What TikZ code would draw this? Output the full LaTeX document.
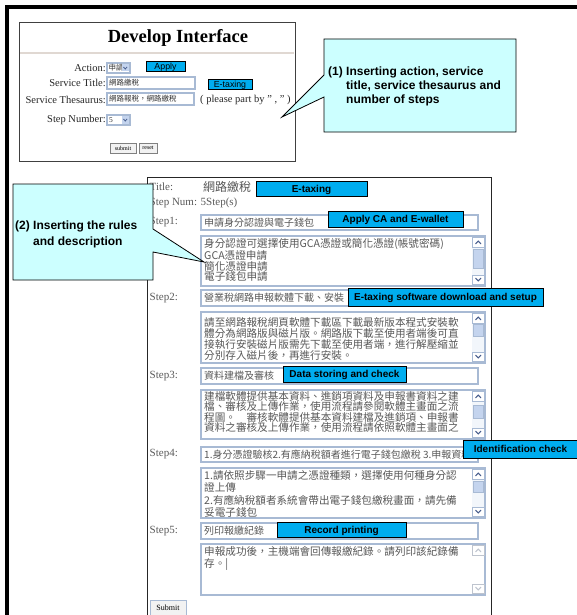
\documentclass[tikz,border=0pt]{standalone}
\usepackage{fontspec}
\setmainfont{Liberation Serif}
\setsansfont{Liberation Sans}
\newfontfamily\cjk{Noto Sans CJK TC}
\definecolor{callfill}{RGB}{204,255,255}
\definecolor{boxline}{RGB}{168,186,212}
\definecolor{sbtrack}{RGB}{242,246,251}
\definecolor{sbthumb}{RGB}{196,212,238}
\definecolor{sbarrow}{RGB}{70,92,140}
\definecolor{sbidle}{RGB}{190,196,206}
\definecolor{labgray}{RGB}{90,90,90}
\definecolor{cjkgray}{RGB}{88,88,88}
\definecolor{rulegray}{RGB}{224,216,210}
\newcommand\fsz[1]{\fontsize{#1}{#1}\selectfont}
% scroll bar of a text area: top, bottom, thumb top, thumb bottom
\newcommand\scrollbar[4]{%
  \fill[sbtrack] (472,#1+1) rectangle (484.4,#2-1);
  \draw[boxline, line width=0.5pt, fill=white] (472.5,#1+1.5) rectangle (484,#1+11);
  \draw[boxline, line width=0.5pt, fill=white] (472.5,#2-11) rectangle (484,#2-1.5);
  \draw[sbarrow, line width=1pt] (475.5,#1+8) -- (478.25,#1+5) -- (481,#1+8);
  \draw[sbarrow, line width=1pt] (475.5,#2-8) -- (478.25,#2-5) -- (481,#2-8);
  \filldraw[fill=sbthumb, draw=boxline, line width=0.5pt] (473,#3) rectangle (483.5,#4);
}
% scroll bar with nothing to scroll: top, bottom
\newcommand\idlebar[2]{%
  \draw[sbidle, line width=0.5pt, fill=white] (472.5,#1+1.5) rectangle (484,#1+11);
  \draw[sbidle, line width=0.5pt, fill=white] (472.5,#2-11) rectangle (484,#2-1.5);
  \draw[sbidle, line width=1pt] (475.5,#1+8) -- (478.25,#1+5) -- (481,#1+8);
  \draw[sbidle, line width=1pt] (475.5,#2-8) -- (478.25,#2-5) -- (481,#2-8);
}
\begin{document}
\begin{tikzpicture}[x=1pt,y=-1pt,
  tbox/.style={draw=boxline, line width=1.1pt, fill=white},
  cyanlab/.style={draw=black, line width=0.9pt, fill=cyan, inner sep=0pt,
    text height=7.2pt, text depth=0pt, font=\sffamily\bfseries\fsz{10}},
  cyansmall/.style={draw=black, line width=0.7pt, fill=cyan, inner sep=0pt,
    text height=6.3pt, text depth=0pt, font=\sffamily\fsz{8.8}},
  formlab/.style={anchor=east, inner sep=0pt, text=black!85, font=\fsz{10.5}},
  steplab/.style={anchor=west, inner sep=0pt, text=labgray, font=\fsz{11}},
  boxtext/.style={anchor=west, inner sep=0pt, text=cjkgray, font=\cjk\fsz{10}},
  areatext/.style={anchor=west, inner sep=0pt, text=cjkgray, font=\cjk\fsz{10.6}},
  tinytext/.style={anchor=west, inner sep=0pt, text=black!80, font=\cjk\fsz{7.5}},
  callout/.style={draw=black, line width=0.8pt, fill=callfill, line join=miter},
  calltext/.style={anchor=base west, inner sep=0pt, font=\sffamily\bfseries\fontsize{12}{14}\selectfont},
  btn/.style={draw=black!50, line width=0.7pt, fill=black!5, inner sep=0pt, font=\fsz{6}},
]
\useasboundingbox (0,0) rectangle (577,615);
\fill[white] (0,0) rectangle (577,615);

% page frame
\draw[line width=4pt] (7,615) -- (7,7) -- (577,7);

% ---------- upper form ----------
\draw[black!75, line width=0.9pt] (19,22) rectangle (295,161);
\node[font=\bfseries\fsz{18.5}] (devtitle) at (178,37.5) {Develop Interface};
\draw[rulegray, line width=1.5pt] (20,53) -- (294,53);

\node[formlab] (actlab) at (106,68) {Action:};
\node[formlab] (titlab) at (106,83) {Service Title:};
\node[formlab] (theslab) at (106,99.5) {Service Thesaurus:};
\node[formlab] (numlab) at (106,120) {Step Number:};

% action drop-down
\draw[tbox] (107,63) rectangle (130,73);
\node[tinytext] (actval) at (108.5,68) {申請};
\fill[sbthumb] (121.5,64.5) rectangle (129,71.5);
\draw[sbarrow, line width=0.8pt] (123.5,67) -- (125.25,69) -- (127,67);
% title and thesaurus fields
\draw[tbox] (107,77) rectangle (195,89);
\node[tinytext] (titval) at (109,83) {網路繳稅};
\draw[tbox] (107,93) rectangle (194,105);
\node[tinytext] (thesval) at (109,99) {網路報稅，網路繳稅};
\node[anchor=west, inner sep=0pt, text=black!85, font=\fsz{10.5}] (thesnote) at (200,100) {( please part by " , " )};
% step number drop-down
\draw[tbox] (107,115) rectangle (130,125);
\node[anchor=west, inner sep=0pt, text=black!80, font=\fsz{7.5}] (numval) at (109,120) {5};
\fill[sbthumb] (121.5,116.5) rectangle (129,123.5);
\draw[sbarrow, line width=0.8pt] (123.5,119) -- (125.25,121) -- (127,119);
% buttons
\node[btn, minimum width=26pt, minimum height=10pt] (subbtn) at (123,148) {submit};
\node[btn, minimum width=18pt, minimum height=10pt] (resbtn) at (148,148) {reset};

% field tags
\node[cyansmall, minimum width=39pt, minimum height=10pt] (tagapply) at (165.5,66) {Apply};
\node[cyansmall, minimum width=44pt, minimum height=10pt] (tagetax) at (230,84) {E-taxing};

% callout (1)
\draw[callout] (324,39) -- (516,39) -- (516,132) -- (324,132) -- (324,97) -- (282,117) -- (324,75) -- cycle;
\node[calltext] (c1txt) at (328,76) {\begin{tabular}[t]{@{}l@{\ }l@{}}(1)&Inserting action, service\\&title, service thesaurus and\\&number of steps\end{tabular}};

% ---------- lower form ----------
\draw[black!85, line width=0.9pt] (147.5,615) -- (147.5,177) -- (491,177) -- (491,615);

\node[steplab] (ttllab) at (149.5,187) {Title:};
\node[anchor=west, inner sep=0pt, text=cjkgray, font=\cjk\fsz{12}] (ttlval) at (203,187) {網路繳稅};
\node[steplab] (stepnum) at (149.5,203) {Step Num: 5Step(s)};

% step 1
\node[steplab] (s1lab) at (149.5,222) {Step1:};
\draw[tbox] (201,215) rectangle (478,230);
\node[boxtext] (s1val) at (204,222.5) {申請身分認證與電子錢包};
\draw[tbox] (201,236) rectangle (485,286);
\scrollbar{236}{286}{249}{268}
\begin{scope}
\clip (202,237) rectangle (471,285);
\node[areatext] (s1a) at (204,244) {身分認證可選擇使用GCA憑證或簡化憑證(帳號密碼)};
\node[areatext] (s1b) at (204,255) {GCA憑證申請};
\node[areatext] (s1c) at (204,266) {簡化憑證申請};
\node[areatext] (s1d) at (204,277) {電子錢包申請};
\end{scope}

% step 2
\node[steplab] (s2lab) at (149.5,298) {Step2:};
\draw[tbox] (201,290) rectangle (478,306);
\node[boxtext] (s2val) at (204,298) {營業稅網路申報軟體下載、安裝};
\draw[tbox] (201,312) rectangle (485,363);
\scrollbar{312}{363}{324}{336}
\begin{scope}
\clip (202,313) rectangle (471,362);
\node[areatext] (s2a) at (204,323) {請至網路報稅網頁軟體下載區下載最新版本程式安裝軟};
\node[areatext] (s2b) at (204,333.7) {體分為網路版與磁片版。網路版下載至使用者端後可直};
\node[areatext] (s2c) at (204,344.4) {接執行安裝磁片版需先下載至使用者端，進行解壓縮並};
\node[areatext] (s2d) at (204,355.1) {分別存入磁片後，再進行安裝。};
\end{scope}

% step 3
\node[steplab] (s3lab) at (149.5,376) {Step3:};
\draw[tbox] (201,368) rectangle (478,384);
\node[boxtext] (s3val) at (204,376) {資料建檔及審核};
\draw[tbox] (201,390) rectangle (485,439);
\scrollbar{390}{439}{405}{418}
\begin{scope}
\clip (202,391) rectangle (471,438);
\node[areatext] (s3a) at (204,396) {建檔軟體提供基本資料、進銷項資料及申報書資料之建};
\node[areatext] (s3b) at (204,406.5) {檔、審核及上傳作業，使用流程請參閱軟體主畫面之流};
\node[areatext] (s3c) at (204,417) {程圖。　審核軟體提供基本資料建檔及進銷項、申報書};
\node[areatext] (s3d) at (204,427.5) {資料之審核及上傳作業，使用流程請依照軟體主畫面之};
\end{scope}

% step 4
\node[steplab] (s4lab) at (149.5,454) {Step4:};
\draw[tbox] (201,447) rectangle (478,462);
\begin{scope}
\clip (202,448) rectangle (477,461);
\node[boxtext] (s4val) at (204,454.5) {1.身分憑證驗核2.有應納稅額者進行電子錢包繳稅 3.申報資料};
\end{scope}
\draw[tbox] (201,468) rectangle (485,518);
\scrollbar{468}{518}{481}{492}
\begin{scope}
\clip (202,469) rectangle (471,517);
\node[areatext] (s4a) at (204,475) {1.請依照步驟一申請之憑證種類，選擇使用何種身分認};
\node[areatext] (s4b) at (204,487.5) {證上傳};
\node[areatext] (s4c) at (204,500) {2.有應納稅額者系統會帶出電子錢包繳稅畫面，請先備};
\node[areatext] (s4d) at (204,512) {妥電子錢包};
\end{scope}

% step 5
\node[steplab] (s5lab) at (149.5,531) {Step5:};
\draw[tbox] (201,523) rectangle (478,539);
\node[boxtext] (s5val) at (204,531) {列印報繳紀錄};
\draw[tbox] (201,544) rectangle (485,595);
\idlebar{544}{595}
\node[areatext] (s5a) at (204,552) {申報成功後，主機端會回傳報繳紀錄。請列印該紀錄備};
\node[areatext] (s5b) at (204,565) {存。|};

% submit button
\node[draw=boxline, line width=1pt, fill=black!5, inner sep=0pt, minimum width=36pt, minimum height=16pt, font=\fsz{8}] (submit) at (168,608) {Submit};

% step tags
\node[cyanlab, minimum width=111pt, minimum height=15pt] (tagtitle) at (311.5,188.5) {E-taxing};
\node[cyanlab, minimum width=135pt, minimum height=16pt] (tagone) at (395.5,219) {Apply CA and E-wallet};
\node[cyanlab, minimum width=195pt, minimum height=18pt] (tagtwo) at (445.5,297) {E-taxing software download and setup};
\node[cyanlab, minimum width=123pt, minimum height=16pt] (tagthree) at (344.5,374) {Data storing and check};
\node[cyanlab, minimum width=115pt, minimum height=18pt] (tagfour) at (520.5,449) {Identification check};
\node[cyanlab, minimum width=129pt, minimum height=15pt] (tagfive) at (341.5,529.5) {Record printing};

% callout (2)
\draw[callout] (13,184) -- (153,184) -- (153,229) -- (204,262) -- (153,252) -- (153,280) -- (13,280) -- cycle;
\node[calltext] (c2txt) at (15,229.5) {\begin{tabular}[t]{@{}l@{\ }l@{}}(2)&Inserting the rules\\[2pt]&and description\end{tabular}};
\end{tikzpicture}
\end{document}
